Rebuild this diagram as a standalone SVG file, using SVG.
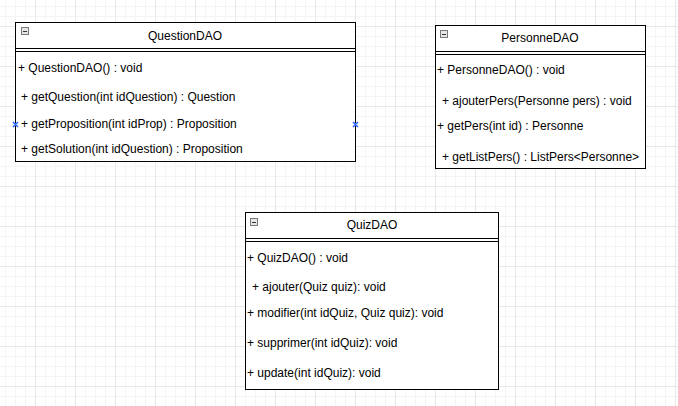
<svg xmlns="http://www.w3.org/2000/svg" width="678" height="406" viewBox="0 0 678 406">
<style>
.box{fill:#fff;stroke:#000;stroke-width:1}
.sep{stroke:#000;stroke-width:1;fill:none}
.t{font-family:"Liberation Sans",Arial,sans-serif;font-size:12px;fill:#000}
.title{text-anchor:middle}
.ic{fill:#e6e6e6;stroke:#7a7a7a;stroke-width:1}
.icm{stroke:#333;stroke-width:1}
.pt{stroke:#2f6bff;stroke-width:1.6;fill:none}
</style>
<defs>
<pattern id="minor" patternUnits="userSpaceOnUse" x="-5" y="-4" width="10" height="10">
<path d="M0.5 0V10M0 0.5H10" stroke="#f4f4f4" stroke-width="1" fill="none"/>
</pattern>
<pattern id="major" patternUnits="userSpaceOnUse" x="-5" y="-14" width="40" height="40">
<path d="M0.5 0V40M0 0.5H40" stroke="#e8e8e8" stroke-width="1" fill="none"/>
</pattern>
<g id="icon"><rect class="ic" x="0.5" y="0.5" width="7" height="7"/><path class="icm" d="M2 4.5H6"/></g>
</defs>
<rect width="678" height="406" fill="#fff"/>
<rect width="678" height="406" fill="url(#minor)"/>
<rect width="678" height="406" fill="url(#major)"/>

<g id="connectors"></g>

<g id="QuestionDAO">
<rect class="box" x="15.5" y="22.5" width="340" height="139"/>
<path class="sep" d="M15.5 48.5H355.5M15.5 51.5H355.5"/>
<use href="#icon" x="21" y="27"/>
<text class="t title" x="185" y="40">QuestionDAO</text>
<text class="t" x="18" y="72">+ QuestionDAO() : void</text>
<text class="t" x="21" y="101">+ getQuestion(int idQuestion) : Question</text>
<text class="t" x="21" y="128">+ getProposition(int idProp) : Proposition</text>
<text class="t" x="21" y="153">+ getSolution(int idQuestion) : Proposition</text>
<path class="pt" d="M13 122L18 127M18 122L13 127M353 122L358 127M358 122L353 127"/>
</g>

<g id="PersonneDAO">
<rect class="box" x="435.5" y="25.5" width="210" height="143"/>
<path class="sep" d="M435.5 51.5H645.5M435.5 54.5H645.5"/>
<use href="#icon" x="440" y="30"/>
<text class="t title" x="540" y="42">PersonneDAO</text>
<text class="t" x="437" y="74">+ PersonneDAO() : void</text>
<text class="t" x="442" y="105">+ ajouterPers(Personne pers) : void</text>
<text class="t" x="437" y="130">+ getPers(int id) : Personne</text>
<text class="t" x="442" y="161">+ getListPers() : ListPers&lt;Personne&gt;</text>
</g>

<g id="QuizDAO">
<rect class="box" x="245.5" y="212.5" width="253" height="177"/>
<path class="sep" d="M245.5 238.5H498.5M245.5 241.5H498.5"/>
<use href="#icon" x="250" y="218"/>
<text class="t title" x="372" y="229">QuizDAO</text>
<text class="t" x="247" y="262">+ QuizDAO() : void</text>
<text class="t" x="252" y="291">+ ajouter(Quiz quiz): void</text>
<text class="t" x="247" y="317">+ modifier(int idQuiz, Quiz quiz): void</text>
<text class="t" x="247" y="347">+ supprimer(int idQuiz): void</text>
<text class="t" x="247" y="377">+ update(int idQuiz): void</text>
</g>
</svg>
